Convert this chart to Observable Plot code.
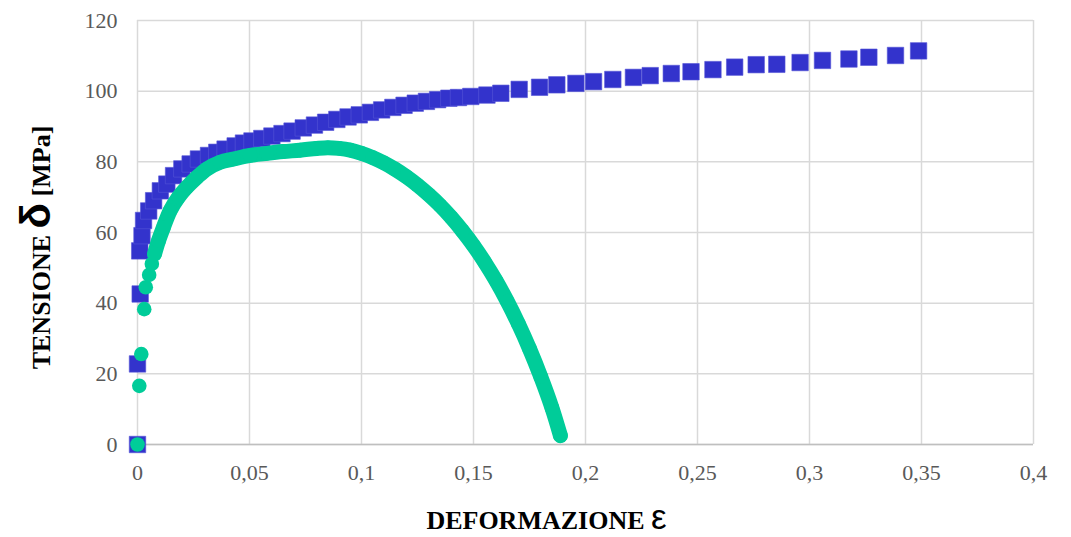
<!DOCTYPE html>
<html>
<head>
<meta charset="utf-8">
<script src="https://cdn.jsdelivr.net/npm/d3@7"></script>
<script src="https://cdn.jsdelivr.net/npm/@observablehq/plot@0.6"></script>
<style>
  html, body { margin: 0; padding: 0; background: #fff; }
</style>
</head>
<body>
<div id="chart"></div>
<script>
// ---- data ----
const blueStrain = [0, 0, 0.0012, 0.0010, 0.0020, 0.0027, 0.0050, 0.0072, 0.0102, 0.0131,
  0.0161, 0.0198, 0.0235, 0.0272, 0.0317, 0.0354, 0.0391, 0.0436, 0.0473, 0.0511,
  0.0555, 0.0600, 0.0645, 0.0690, 0.0740, 0.0790, 0.0840, 0.0890, 0.0940, 0.0990,
  0.1040, 0.1090, 0.1140, 0.1190, 0.1240, 0.1290, 0.1340, 0.1390, 0.1433, 0.1488,
  0.1560, 0.1622, 0.1704, 0.1795, 0.1872, 0.1957, 0.2036, 0.2122, 0.2214, 0.2289,
  0.2383, 0.2471, 0.2569, 0.2666, 0.2762, 0.2854, 0.2958, 0.3058, 0.3176, 0.3265,
  0.3384, 0.3487];
const blueStress = [0, 22.8, 42.6, 54.8, 59.1, 63.4, 66.1, 69.0, 71.8, 73.7,
  76.1, 78.0, 79.4, 80.8, 81.8, 82.7, 83.6, 84.5, 85.3, 85.9,
  86.6, 87.3, 88.0, 88.7, 89.6, 90.4, 91.2, 92.0, 92.7, 93.3,
  94.0, 94.7, 95.4, 96.0, 96.6, 97.1, 97.6, 98.0, 98.2, 98.5,
  98.9, 99.4, 100.5, 101.1, 101.8, 102.2, 102.7, 103.3, 103.9, 104.4,
  105.0, 105.5, 106.1, 106.8, 107.5, 107.6, 108.1, 108.7, 109.1, 109.6,
  110.1, 111.4];

const greenStrain = [0, 0.0008, 0.0017, 0.0030, 0.0037, 0.0052, 0.0064, 0.0076, 0.0094, 0.0116,
  0.0146, 0.0183, 0.0220, 0.0265, 0.0310, 0.0369, 0.0429, 0.0503, 0.0578, 0.0650,
  0.0726, 0.0800, 0.0850, 0.0900, 0.0950, 0.1000, 0.1050, 0.1100, 0.1150, 0.1200,
  0.1250, 0.1300, 0.1350, 0.1400, 0.1450, 0.1500, 0.1550, 0.1600, 0.1650, 0.1700,
  0.1750, 0.1800, 0.1850, 0.1888];
const greenStress = [0, 16.6, 25.6, 38.3, 44.5, 48.0, 51.1, 53.9, 57.7, 61.5,
  66.2, 70.0, 72.8, 75.6, 78.0, 79.9, 80.8, 81.8, 82.4, 82.9,
  83.3, 83.8, 84.0, 83.8, 83.3, 82.4, 81.2, 79.7, 77.9, 75.8,
  73.4, 70.7, 67.7, 64.3, 60.5, 56.3, 51.6, 46.4, 40.6, 34.2,
  27.1, 19.2, 10.4, 2.5];

const xTicks = [0, 0.05, 0.1, 0.15, 0.2, 0.25, 0.3, 0.35, 0.4];
const yTicks = [0, 20, 40, 60, 80, 100, 120];

const yTitle = ["TENSIONE ", "δ", " [MPa]"];
const xTitle = ["DEFORMAZIONE ", "ε"];

// ---- build tables ----
const blue = blueStrain.map((x, i) => ({x, y: blueStress[i]}));
const green = greenStrain.map((x, i) => ({x, y: greenStress[i]}));
const greenBand = green.slice(7);

const serif = "'Liberation Serif', 'Times New Roman', Times, serif";
const sans = "'Liberation Sans', Arial, 'DejaVu Sans', sans-serif";
const fmt = d => String(d).replace(".", ",");

const chart = Plot.plot({
  width: 1071,
  height: 537,
  marginLeft: 137,
  marginRight: 38,
  marginTop: 20,
  marginBottom: 93,
  style: {fontFamily: serif, fontSize: "22px", background: "#fff"},
  x: {domain: [0, 0.4]},
  y: {domain: [0, 120]},
  marks: [
    Plot.gridX(xTicks, {stroke: "#d9d9d9", strokeOpacity: 1, strokeWidth: 1.5}),
    Plot.gridY(yTicks, {stroke: "#d9d9d9", strokeOpacity: 1, strokeWidth: 1.5}),
    Plot.ruleY([0], {stroke: "#bfbfbf", strokeWidth: 1.5}),
    Plot.axisX(xTicks, {tickSize: 0, tickPadding: 20, tickFormat: fmt, fontSize: 22, color: "#595959", label: null}),
    Plot.axisY(yTicks, {tickSize: 0, tickPadding: 20, fontSize: 22, color: "#595959", label: null}),
    Plot.dot(blue, {x: "x", y: "y", symbol: "square", r: 9.3, fill: "#3333cc", stroke: "#5555d6", strokeWidth: 0.6}),
    Plot.line(greenBand, {x: "x", y: "y", stroke: "#00cc99", strokeWidth: 15, strokeLinecap: "round", strokeLinejoin: "round", curve: "catmull-rom"}),
    Plot.dot(green, {x: "x", y: "y", r: 7.3, fill: "#00cc99"})
  ]
});

document.getElementById("chart").appendChild(chart);

const svg = d3.select(chart);
const yt = svg.append("text")
  .attr("transform", "translate(50,247.5) rotate(-90)")
  .attr("text-anchor", "middle")
  .attr("font-family", serif)
  .attr("font-weight", "bold")
  .attr("font-size", 26)
  .attr("fill", "#000");
yt.append("tspan").text(yTitle[0]);
yt.append("tspan").attr("font-family", sans).attr("font-size", 42).text(yTitle[1]);
yt.append("tspan").text(yTitle[2]);

const xt = svg.append("text")
  .attr("x", 546.5)
  .attr("y", 529)
  .attr("text-anchor", "middle")
  .attr("font-family", serif)
  .attr("font-weight", "bold")
  .attr("font-size", 26)
  .attr("fill", "#000");
xt.append("tspan").text(xTitle[0]);
xt.append("tspan").attr("font-family", sans).attr("font-weight", "normal").attr("font-size", 35).text(xTitle[1]);
</script>
</body>
</html>
